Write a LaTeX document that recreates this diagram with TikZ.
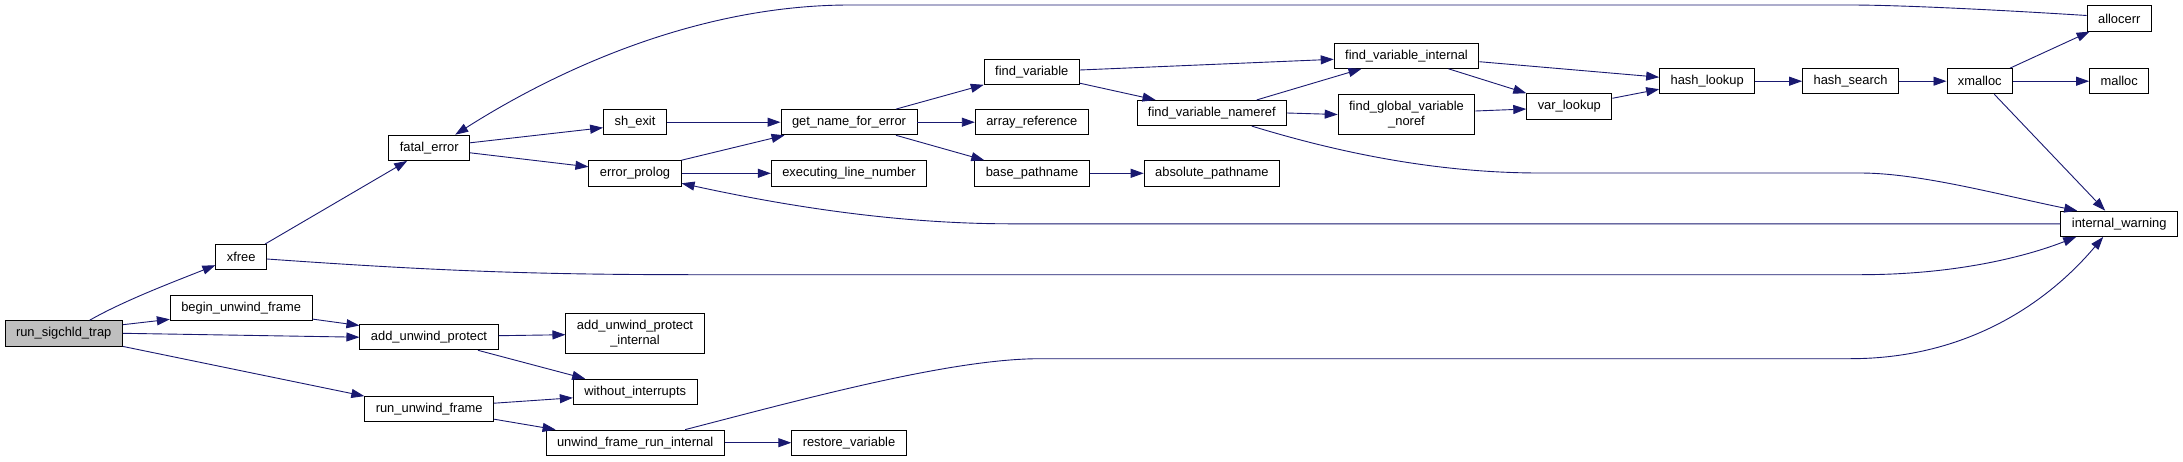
\documentclass[tikz,border=0pt]{standalone}
\usepackage{fontspec}
\setmainfont{Liberation Sans}
\usetikzlibrary{arrows.meta}
\definecolor{edgeblue}{HTML}{191970}
\colorlet{rootgray}{black!25}
\tikzset{
  fn/.style = {
    draw=black, line width=0.9pt, fill=white,
    inner xsep=11pt, inner ysep=0pt, minimum height=25.3pt,
    font=\fontsize{12.9}{15}\selectfont, align=center
  },
  call/.style = {->, draw=edgeblue, line width=0.9pt}
}
\tikzset{>={Triangle[length=13pt,width=9pt]}}

\begin{document}
\begin{tikzpicture}[x=1pt,y=-1pt]
  \path[use as bounding box, fill=white] (0,0) rectangle (2183,461);
  \node[fn, fill=rootgray] (run) at (63.7,333.3) {run\_sigchld\_trap};
  \node[fn] (xfree) at (241.2,257.2) {xfree};
  \node[fn] (beginuw) at (241.2,307.7) {begin\_unwind\_frame};
  \node[fn] (fatal) at (429.2,147.8) {fatal\_error};
  \node[fn] (adduw) at (429,337.2) {add\_unwind\_protect};
  \node[fn] (runuw) at (429.2,409.2) {run\_unwind\_frame};
  \node[fn] (shexit) at (635,122.2) {sh\_exit};
  \node[fn] (eprolog) at (635,173.3) {error\_prolog};
  \node[fn, minimum height=40.3pt] (adduwint) at (635,333.2) {add\_unwind\_protect\\\_internal};
  \node[fn] (noint) at (635.2,391.8) {without\_interrupts};
  \node[fn] (ufri) at (635.2,442.7) {unwind\_frame\_run\_internal};
  \node[fn] (gname) at (849,122.2) {get\_name\_for\_error};
  \node[fn] (execline) at (849,173.3) {executing\_line\_number};
  \node[fn] (restore) at (849,442.7) {restore\_variable};
  \node[fn] (findvar) at (1031.8,71.7) {find\_variable};
  \node[fn] (arrayref) at (1031.8,122.2) {array\_reference};
  \node[fn] (basepath) at (1032,173.3) {base\_pathname};
  \node[fn] (nameref) at (1211.8,113) {find\_variable\_nameref};
  \node[fn] (abspath) at (1211.8,173.3) {absolute\_pathname};
  \node[fn] (fvint) at (1406.5,55.7) {find\_variable\_internal};
  \node[fn, minimum height=40.3pt] (fglobal) at (1406.5,114.5) {find\_global\_variable\\\_noref};
  \node[fn] (varlookup) at (1569.3,106.3) {var\_lookup};
  \node[fn] (hlookup) at (1707.2,81.2) {hash\_lookup};
  \node[fn] (hsearch) at (1850.5,81.2) {hash\_search};
  \node[fn] (xmalloc) at (1979.8,81.2) {xmalloc};
  \node[fn] (alloc) at (2119.2,18.5) {allocerr};
  \node[fn] (malloc) at (2119.2,81.2) {malloc};
  \node[fn] (iwarn) at (2119.2,223.8) {internal\_warning};

  \draw[call] ([xshift=26pt]run.north) .. controls +(35,-20) and +(-40,16) .. ([yshift=-8pt]xfree.west);
  \draw[call] ([yshift=8.6pt]run.east) -- ([yshift=-11.6pt]beginuw.west);
  \draw[call] (run.east) -- (adduw.west);
  \draw[call] (run.south east) -- (runuw.north west);
  \draw[call] ([xshift=-2pt]xfree.north east) -- ([xshift=-22pt]fatal.south);
  \draw[call] ([yshift=-1.8pt]xfree.east) .. controls (450,272) and (550,274.7) .. (700,274.7)
    -- (1860,274.7) .. controls (1960,274.7) and (2030,255) .. ([xshift=-43pt]iwarn.south);
  \draw[call] ([yshift=1.7pt]beginuw.south east) -- ([yshift=-1.4pt]adduw.north west);
  \draw[call] ([yshift=5pt]fatal.east) -- ([yshift=-5.5pt]shexit.west);
  \draw[call] ([yshift=-5pt]fatal.east) -- ([yshift=6.5pt]eprolog.west);
  \draw[call] ([yshift=3pt]alloc.west) .. controls (2000,10) and (1900,5) .. (1850,5)
    -- (850,5) .. controls (700,5) and (560,68) .. ([xshift=26pt]fatal.north);
  \draw[call] (shexit) -- (gname);
  \draw[call] (eprolog.north east) -- ([xshift=4pt]gname.south west);
  \draw[call] (eprolog) -- (execline);
  \draw[call] (iwarn.west) -- (1010,223.8) .. controls (900,223.8) and (790,207) .. ([yshift=-10pt]eprolog.east);
  \draw[call] ([xshift=47pt]gname.north) -- (findvar.south west);
  \draw[call] (gname) -- (arrayref);
  \draw[call] ([xshift=47pt]gname.south) -- ([xshift=10pt]basepath.north west);
  \draw[call] (basepath) -- (abspath);
  \draw[call] ([yshift=1.7pt]findvar.east) -- ([yshift=-3.6pt]fvint.west);
  \draw[call] ([yshift=1.6pt]findvar.south east) -- ([xshift=19pt]nameref.north west);
  \draw[call] ([xshift=45pt]nameref.north) -- ([xshift=-45pt]fvint.south);
  \draw[call] (nameref.east) -- (fglobal.west);
  \draw[call] ([xshift=40pt]nameref.south) .. controls (1330,150) and (1430,173) .. (1540,173)
    -- (1860,173) .. controls (1920,173) and (2000,195) .. ([xshift=-42pt]iwarn.north);
  \draw[call] ([yshift=-6pt]fvint.east) -- ([yshift=4pt]hlookup.west);
  \draw[call] ([xshift=42pt]fvint.south) -- (varlookup.north west);
  \draw[call] ([yshift=3.5pt]fglobal.east) -- ([yshift=-2.7pt]varlookup.west);
  \draw[call] ([yshift=8pt]varlookup.east) -- ([yshift=-8pt]hlookup.west);
  \draw[call] (hlookup) -- (hsearch);
  \draw[call] (hsearch) -- (xmalloc);
  \draw[call] ([xshift=-3pt]xmalloc.north east) -- ([xshift=3pt]alloc.south west);
  \draw[call] (xmalloc) -- (malloc);
  \draw[call] ([xshift=14.5pt]xmalloc.south) -- ([xshift=-14pt]iwarn.north);
  \draw[call] ([yshift=1.5pt]adduw.east) -- ([yshift=-1.5pt]adduwint.west);
  \draw[call] ([xshift=49pt]adduw.south) -- ([xshift=-50pt]noint.north);
  \draw[call] ([yshift=6pt]runuw.east) -- ([yshift=-6pt]noint.west);
  \draw[call] ([yshift=-10pt]runuw.east) -- ([xshift=10pt]ufri.north west);
  \draw[call] (ufri) -- (restore);
  \draw[call] ([xshift=50pt]ufri.north) .. controls (800,400) and (950,358.7) .. (1040,358.7)
    -- (1850,358.7) .. controls (1970,358.7) and (2050,300) .. ([xshift=-16pt]iwarn.south);
\end{tikzpicture}
\end{document}
